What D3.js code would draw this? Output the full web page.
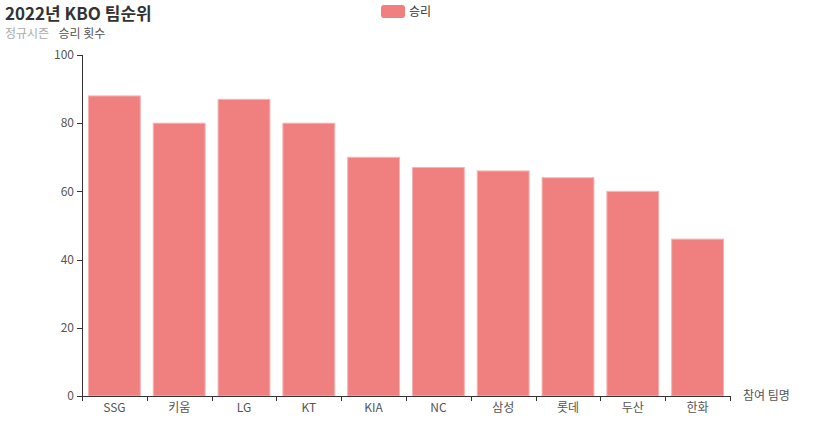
<!DOCTYPE html>
<html><head><meta charset="utf-8">
<script src="https://cdn.jsdelivr.net/npm/d3@7"></script>
<style>body{margin:0;background:#fff;}svg{display:block;font-family:"Noto Sans CJK KR","Noto Sans",sans-serif;}</style>
</head><body>
<svg id="c" width="814" height="424"></svg>
<script>
const categories = ["SSG","키움","LG","KT","KIA","NC","삼성","롯데","두산","한화"];
const wins = [88,80,87,80,70,67,66,64,60,46];
const yTicks = [0,20,40,60,80,100];

const svg = d3.select("#c");
const L = 82, R = 730, T = 55, B = 396;
const x = d3.scaleBand().domain(categories).range([L, R]).paddingInner(0.2).paddingOuter(0.1);
const y = d3.scaleLinear().domain([0, 100]).range([B, T]);

svg.append("g").selectAll("rect").data(wins).join("rect")
  .attr("x", (d,i) => x(categories[i]))
  .attr("y", d => y(d))
  .attr("width", x.bandwidth())
  .attr("height", d => B - y(d))
  .attr("fill", "#f08080")
  .attr("stroke", "#f7b3b3").attr("stroke-width", 1);

// y axis
const ya = svg.append("g");
ya.append("line").attr("x1", L+0.5).attr("x2", L+0.5).attr("y1", T).attr("y2", B).attr("stroke", "#333");
yTicks.forEach(t => {
  ya.append("line").attr("x1", L-5).attr("x2", L).attr("y1", Math.round(y(t))+0.5).attr("y2", Math.round(y(t))+0.5).attr("stroke", "#333");
  ya.append("text").attr("x", L-8).attr("y", y(t)).attr("dy", "0.35em").attr("text-anchor", "end")
    .attr("font-size", 12).attr("fill", "#555").text(t);
});

// x axis
const xa = svg.append("g");
xa.append("line").attr("x1", L).attr("x2", R).attr("y1", B+0.5).attr("y2", B+0.5).attr("stroke", "#333");
for (let i = 0; i <= categories.length; i++) {
  const px = Math.round(L + i*(R-L)/categories.length)+0.5;
  xa.append("line").attr("x1", px).attr("x2", px).attr("y1", B).attr("y2", B+5).attr("stroke", "#333");
}
categories.forEach(c => {
  xa.append("text").attr("x", x(c) + x.bandwidth()/2).attr("y", B+12).attr("dy", "0.35em")
    .attr("text-anchor", "middle").attr("font-size", 12).attr("fill", "#555").text(c);
});
svg.append("text").attr("x", R+13).attr("y", B).attr("dy", "0.35em").attr("font-size", 12).attr("fill", "#555").text("참여 팀명");
svg.append("text").attr("x", L).attr("y", 34).attr("dy", "0.35em").attr("text-anchor", "middle").attr("font-size", 12).attr("fill", "#555").text("승리 횟수");

// title
svg.append("text").attr("x", 5).attr("y", 14).attr("dy", "0.35em").attr("font-size", 17).attr("font-weight", "bold").attr("fill", "#333").text("2022년 KBO 팀순위");
svg.append("text").attr("x", 5).attr("y", 34).attr("dy", "0.35em").attr("font-size", 12).attr("fill", "#aaa").text("정규시즌");

// legend
svg.append("rect").attr("x", 381).attr("y", 5).attr("width", 24).attr("height", 13).attr("rx", 3).attr("fill", "#f08080");
svg.append("text").attr("x", 409).attr("y", 11.5).attr("dy", "0.35em").attr("font-size", 12).attr("fill", "#333").text("승리");
</script>
</body></html>
